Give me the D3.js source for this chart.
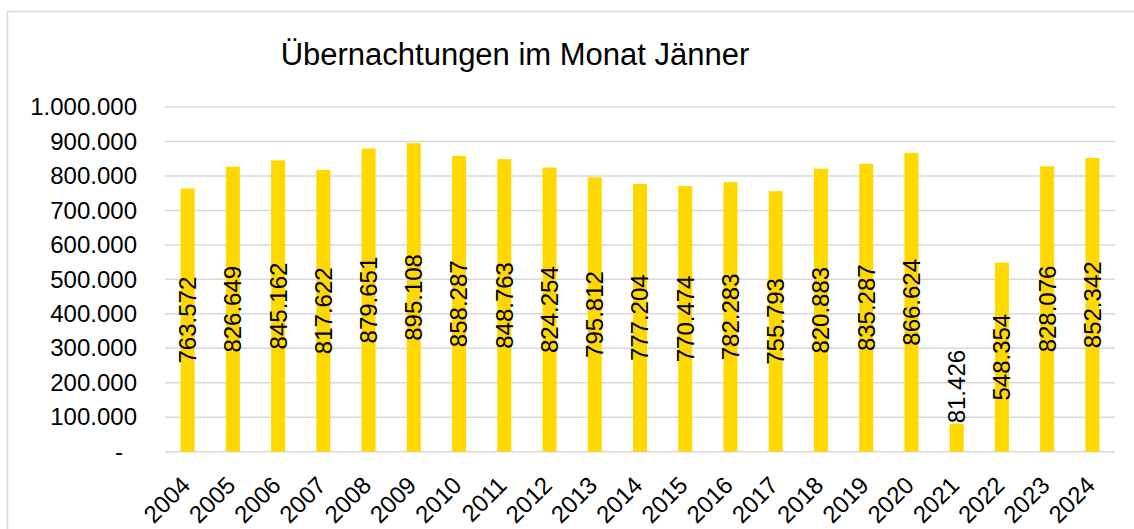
<!DOCTYPE html>
<html>
<head>
<meta charset="utf-8">
<script src="https://cdn.jsdelivr.net/npm/d3@7"></script>
<style>
  body { margin: 0; background: #fff; }
  text { font-family: "Liberation Sans", Arial, sans-serif; fill: #000; }
</style>
</head>
<body>
<div id="chart"></div>
<script>
// data
var years = ["2004","2005","2006","2007","2008","2009","2010","2011","2012","2013","2014",
             "2015","2016","2017","2018","2019","2020","2021","2022","2023","2024"]
var nights = [763572, 826649, 845162, 817622, 879651, 895108, 858287, 848763, 824254, 795812, 777204,
              770474, 782283, 755793, 820883, 835287, 866624, 81426, 548354, 828076, 852342]
var yTicks = [0, 100000, 200000, 300000, 400000, 500000, 600000, 700000, 800000, 900000, 1000000]
var title = "Übernachtungen im Monat Jänner"

var width = 1134,
    height = 529
var plot = {left: 165, right: 1115, top: 107, bottom: 451.7}

var de = d3.formatLocale({decimal: ",", thousands: ".", grouping: [3], currency: ["", " €"]})
var fmt = de.format(",d")

var svg = d3.select("#chart")
  .append("svg")
    .attr("width", width)
    .attr("height", height)

// chart frame
svg.append("rect")
  .attr("x", 7.5).attr("y", 11.5)
  .attr("width", width + 20).attr("height", height + 20)
  .attr("fill", "none")
  .attr("stroke", "#d9d9d9")
  .attr("stroke-width", 1.5)

svg.append("text")
  .attr("x", 515)
  .attr("y", 65)
  .attr("text-anchor", "middle")
  .style("font-size", "31px")
  .text(title)

var x = d3.scaleBand()
  .domain(years)
  .range([plot.left, plot.right])
  .paddingInner(0.69)
  .paddingOuter(0.345)

var y = d3.scaleLinear()
  .domain([0, 1000000])
  .range([plot.bottom, plot.top])

// gridlines
svg.append("g")
  .selectAll("line")
  .data(yTicks)
  .enter()
  .append("line")
    .attr("x1", plot.left).attr("x2", plot.right)
    .attr("y1", function(d) { return y(d) }).attr("y2", function(d) { return y(d) })
    .attr("stroke", "#d9d9d9")
    .attr("stroke-width", 1.5)

// y axis labels
var yAxis = svg.append("g")
  .attr("transform", "translate(" + (plot.left - 28) + ",0)")
  .call(d3.axisLeft(y).tickValues(yTicks).tickSize(0).tickPadding(0)
    .tickFormat(function(d) { return d === 0 ? "-" : fmt(d) }))
yAxis.select(".domain").remove()
yAxis.selectAll("text")
  .style("font-size", "24px")
  .style("font-family", "'Liberation Sans', Arial, sans-serif")
  .attr("fill", "#000")
  .attr("dx", function(d) { return d === 0 ? -14 : 0 })

// bars
svg.append("g")
  .selectAll("rect")
  .data(nights)
  .enter()
  .append("rect")
    .attr("x", function(d, i) { return x(years[i]) })
    .attr("y", function(d) { return y(d) })
    .attr("width", x.bandwidth())
    .attr("height", function(d) { return y(0) - y(d) })
    .attr("fill", "#ffd800")

// value labels, rotated; placed above the bar when it does not fit inside
var labelLen = 90
svg.append("g")
  .selectAll("text")
  .data(nights)
  .enter()
  .append("text")
    .attr("transform", function(d, i) {
      var cx = x(years[i]) + x.bandwidth() / 2
      var h = y(0) - y(d)
      var cy = h > labelLen ? (y(0) + y(d)) / 2 : y(d) - 37
      return "translate(" + cx + "," + cy + ") rotate(-90)"
    })
    .attr("text-anchor", "middle")
    .attr("dy", "0.35em")
    .style("font-size", "24px")
    .text(function(d) { return fmt(d) })

// x axis labels
var xAxis = svg.append("g")
  .attr("transform", "translate(0," + plot.bottom + ")")
  .call(d3.axisBottom(x).tickSize(0).tickPadding(0))
xAxis.select(".domain").remove()
xAxis.selectAll("text")
  .style("font-size", "24px")
  .style("font-family", "'Liberation Sans', Arial, sans-serif")
  .attr("fill", "#000")
  .attr("text-anchor", "end")
  .attr("dy", null)
  .attr("y", 0)
  .attr("transform", "translate(4,35) rotate(-45)")
</script>
</body>
</html>
